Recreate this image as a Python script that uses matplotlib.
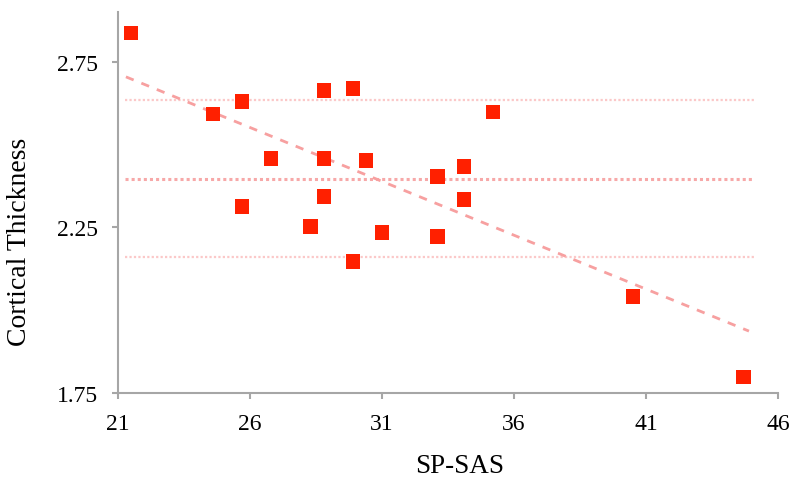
import matplotlib
matplotlib.use("Agg")
import matplotlib.pyplot as plt

# values
sp_sas = [21.5, 24.6, 25.7, 26.8, 25.7, 28.8, 29.9, 28.8, 30.4, 28.8,
          28.3, 29.9, 31.0, 33.1, 33.1, 34.1, 34.1, 35.2, 40.5, 44.7]
thickness = [2.837, 2.593, 2.630, 2.458, 2.313, 2.663, 2.669, 2.458, 2.452, 2.343,
             2.253, 2.148, 2.235, 2.223, 2.404, 2.434, 2.334, 2.599, 2.042, 1.798]

trend_x = [21.3, 44.9]
trend_y = [2.705, 1.937]

mean_y = 2.395
sd_lines = [2.636, 2.160]
line_x = [21.25, 45.1]

xticks = [21, 26, 31, 36, 41, 46]
yticks = [1.75, 2.25, 2.75]

plt.rcParams['font.family'] = ['Liberation Serif', 'DejaVu Serif']

fig = plt.figure(figsize=(8, 4.85), dpi=100)
ax = fig.add_axes([0.1475, 0.1876, 0.825, 0.785])

# mean and +/- 1 SD lines
ax.plot(line_x, [mean_y, mean_y], linestyle=(0, (1, 1)), color='#f7a8a8', lw=2.2, zorder=1)
for v in sd_lines:
    ax.plot(line_x, [v, v], linestyle=(0, (1, 1)), color='#fbc8c8', lw=1.6, zorder=1)

# trend line
ax.plot(trend_x, trend_y, linestyle=(0, (3, 3)), color='#f7a0a0', lw=2, zorder=2)

ax.scatter(sp_sas, thickness, marker='s', s=110, color='#ff2000', edgecolors='none', zorder=3)

ax.set_xlim(21, 46)
ax.set_ylim(1.75, 2.9)
ax.set_xticks(xticks)
ax.set_yticks(yticks)
ax.set_yticklabels(['%.2f' % t for t in yticks])

for s in ['top', 'right']:
    ax.spines[s].set_visible(False)
for s in ['left', 'bottom']:
    ax.spines[s].set_color('#a6a6a6')
    ax.spines[s].set_linewidth(1.5)

ax.tick_params(axis='both', colors='#a6a6a6', length=4.5, width=1.5, labelcolor='black',
               labelsize=17, pad=10)

ax.set_xlabel('SP-SAS', fontsize=19.5)
ax.set_ylabel('Cortical Thickness', fontsize=20)
ax.xaxis.set_label_coords(0.518, -0.158)
ax.yaxis.set_label_coords(-0.13, 0.40)

fig.savefig('out.png', dpi=100)
